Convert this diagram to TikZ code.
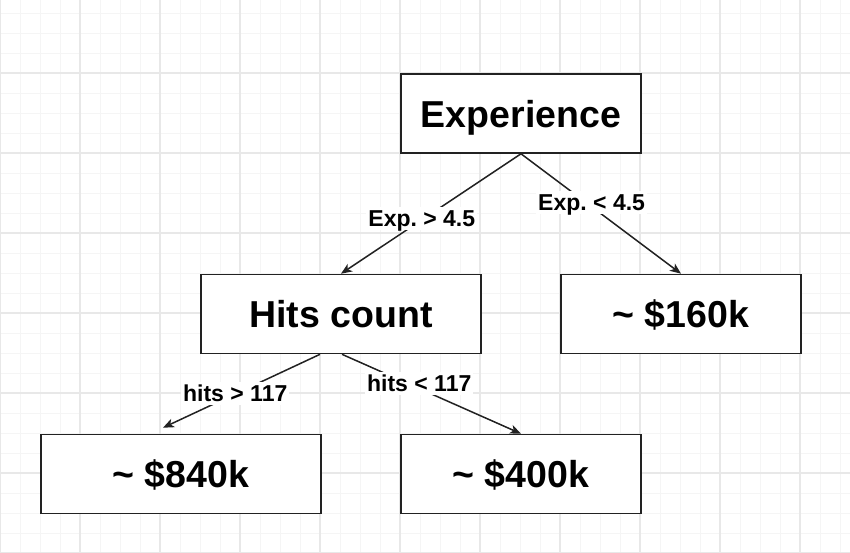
\documentclass[tikz,border=0pt]{standalone}
\usepackage{fontspec}
\setmainfont{Liberation Sans}
\usetikzlibrary{arrows.meta,calc}
\definecolor{minorgrid}{HTML}{F5F5F5}
\definecolor{majorgrid}{HTML}{E8E8E8}
\definecolor{ink}{HTML}{222222}
\frenchspacing
\begin{document}
\begin{tikzpicture}[x=1pt,y=-1pt,
  minorline/.style={minorgrid, line width=0.9pt},
  majorline/.style={majorgrid, line width=1.2pt},
  box/.style={draw=ink, line width=1.6pt, fill=white, inner sep=0pt,
    minimum height=79pt, text height=27pt, text depth=0pt,
    font=\fontsize{37.5}{40}\selectfont\bfseries},
  edge/.style={draw=ink, line width=1.5pt, -{Stealth[length=11pt,width=9pt,inset=3pt]}},
  lbl/.style={fill=white, inner sep=2pt, text height=17pt, text depth=2pt, text=black,
    font=\fontsize{23}{26}\selectfont\bfseries}]
\useasboundingbox (0,0) rectangle (850,552);
\fill[white] (0,0) rectangle (850,552);
\foreach \x in {0,20,...,840} \draw[minorline] (\x,0) -- (\x,552);
\foreach \y in {-7,13,...,553} \draw[minorline] (0,\y) -- (850,\y);
\foreach \x in {0,80,...,800} \draw[majorline] (\x,0) -- (\x,552);
\foreach \y in {73,153,...,553} \draw[majorline] (0,\y) -- (850,\y);

\node[box, minimum width=240pt] (exp) at (521,113.5) {Experience};
\node[box, minimum width=280pt] (hits) at (341,314) {Hits count};
\node[box, minimum width=240pt] (p160) at (681,314) {\textasciitilde{} \$160k};
\node[box, minimum width=280pt] (p840) at (181,474) {\textasciitilde{} \$840k};
\node[box, minimum width=240pt] (p400) at (521,474) {\textasciitilde{} \$400k};

\coordinate (hl) at ($(hits.south)+(-21,0)$);
\coordinate (hr) at ($(hits.south)+(1,0)$);
\coordinate (t840) at ($(p840.north)+(-18,-6)$);

\draw[edge] (exp.south) -- node[lbl, pos=0.54, xshift=-2pt] (l1) {Exp. > 4.5} (hits.north);
\draw[edge] (exp.south) -- node[lbl, pos=0.41, xshift=5pt] (l2) {Exp. < 4.5} (p160.north);
\draw[edge] (hl) -- node[lbl, pos=0.54] (l3) {hits > 117} (t840);
\draw[edge] (hr) -- node[lbl, pos=0.37, xshift=11pt] (l4) {hits < 117} (p400.north);
\end{tikzpicture}
\end{document}
